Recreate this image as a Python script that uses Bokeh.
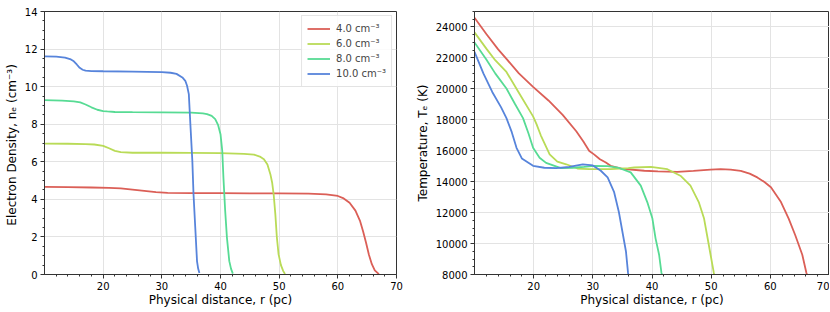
from bokeh.plotting import figure
from bokeh.layouts import row
from bokeh.models import FixedTicker
from bokeh.embed import file_html
from bokeh.resources import INLINE

# ---------------- data ----------------
labels = ["4.0 cm⁻³", "6.0 cm⁻³", "8.0 cm⁻³", "10.0 cm⁻³"]
colors = ["#db5f57", "#b9db57", "#57db94", "#5784db"]

# Electron density profiles
ne_r_4 = [10, 14, 18, 21, 23, 25, 27, 29, 31, 35, 40, 45, 50, 55, 58, 60, 61, 62, 63, 63.8, 64.3, 64.8, 65.3, 65.8, 66.3, 67.0]
ne_4 = [4.66, 4.65, 4.63, 4.61, 4.58, 4.52, 4.45, 4.38, 4.34, 4.33, 4.33, 4.32, 4.32, 4.30, 4.27, 4.18, 4.05, 3.82, 3.40, 2.84, 2.30, 1.70, 1.05, 0.55, 0.22, 0.02]

ne_r_6 = [10, 14, 17, 18.5, 20, 21, 22, 23, 25, 30, 35, 40, 44, 45.7, 46.7, 47.4, 48, 48.5, 48.8, 49.06, 49.35, 49.6, 49.9, 50.3, 50.7, 51.0]
ne_6 = [6.97, 6.96, 6.94, 6.92, 6.85, 6.72, 6.58, 6.51, 6.48, 6.48, 6.47, 6.46, 6.42, 6.38, 6.28, 6.14, 5.85, 5.34, 4.9, 4.27, 3.2, 2.0, 1.07, 0.5, 0.18, 0.03]

ne_r_8 = [10, 13, 15, 16.1, 17, 18, 19, 20, 20.7, 22, 25, 30, 35, 37, 37.7, 38.5, 39.1, 39.6, 40.0, 40.3, 40.5, 40.8, 41.1, 41.5, 41.8, 42.1]
ne_8 = [9.28, 9.26, 9.22, 9.16, 9.05, 8.9, 8.77, 8.70, 8.68, 8.65, 8.64, 8.63, 8.62, 8.58, 8.54, 8.44, 8.27, 7.95, 7.47, 6.58, 5.15, 3.38, 1.95, 0.71, 0.3, 0.05]

ne_r_10 = [10, 12, 13.5, 14.5, 15, 15.5, 16, 16.5, 17, 18, 20, 25, 30, 31.5, 32.5, 33.5, 34.0, 34.3, 34.6, 34.9, 35.2, 35.4, 35.7, 36.0, 36.2, 36.4]
ne_10 = [11.61, 11.6, 11.55, 11.45, 11.35, 11.18, 11.0, 10.9, 10.85, 10.83, 10.82, 10.8, 10.77, 10.74, 10.68, 10.49, 10.31, 10.05, 9.6, 7.8, 6.05, 4.27, 2.49, 0.7, 0.3, 0.08]

# Temperature profiles
te_r_4 = [10, 12, 14, 15.4, 17.5, 19.9, 22.5, 24.9, 27.2, 28.4, 29.4, 30.2, 31.2, 32.2, 33, 35, 38.7, 41, 44.3, 47, 49.9, 51.6, 53.3, 55, 56.5, 57.8, 59, 60.1, 61.8, 63.1, 64.2, 65.4, 66.1, 66.2]
te_4 = [24600, 23550, 22550, 21940, 21000, 20130, 19250, 18320, 17260, 16600, 15980, 15765, 15450, 15235, 15024, 14830, 14705, 14660, 14640, 14700, 14780, 14807, 14780, 14705, 14520, 14277, 13980, 13640, 12680, 11614, 10554, 9277, 8100, 8000]

te_r_6 = [10, 12, 13.5, 15.4, 17.5, 19.9, 20.5, 21.2, 22.7, 24, 25.5, 27.4, 29.4, 33, 36, 37, 39.8, 42.6, 44.8, 46.5, 47.9, 48.8, 49.3, 49.9, 50.45, 50.5]
te_6 = [23650, 22600, 21850, 21090, 19750, 18220, 17700, 17000, 15765, 15300, 15125, 14850, 14807, 14807, 14880, 14915, 14960, 14807, 14386, 13747, 12680, 11614, 10554, 9277, 8100, 8000]

te_r_8 = [10, 12, 13.5, 15.4, 16.8, 18.2, 19.1, 19.9, 21, 22.1, 24.6, 26.6, 28.5, 30.2, 32.5, 34.2, 36.4, 38.1, 39.2, 40.07, 40.6, 41.2, 41.6, 41.7]
te_8 = [23000, 21900, 21000, 20025, 19050, 18110, 17150, 16190, 15550, 15215, 14870, 14900, 14960, 15024, 15000, 14915, 14600, 13747, 12680, 11614, 10337, 9277, 8100, 8000]

te_r_10 = [10, 11.5, 13, 14.5, 15.4, 16.3, 17.1, 18, 19.9, 21.8, 23.8, 26, 28.3, 30, 31.35, 32.5, 33.6, 34.4, 35.0, 35.6, 35.95, 36.0]
te_10 = [22400, 21000, 19800, 18800, 18110, 17200, 16190, 15500, 15024, 14900, 14870, 14950, 15125, 15050, 14705, 14277, 13320, 12040, 10765, 9488, 8100, 8000]

# ticks
x_major = [20, 30, 40, 50, 60, 70]
x_minor = [12, 14, 16, 18, 22, 24, 26, 28, 32, 34, 36, 38, 42, 44, 46, 48, 52, 54, 56, 58, 62, 64, 66, 68]
ne_major = [0, 2, 4, 6, 8, 10, 12, 14]
ne_minor = [v / 2 for v in range(0, 29)]
te_major = [8000, 10000, 12000, 14000, 16000, 18000, 20000, 22000, 24000]
te_minor = list(range(8000, 25001, 500))

FONT = "DejaVu Sans"
DARK = "#333333"


def style(p, xlabel, ylabel, xt, xm, yt, ym):
    p.xaxis.ticker = FixedTicker(ticks=xt, minor_ticks=xm)
    p.yaxis.ticker = FixedTicker(ticks=yt, minor_ticks=ym)
    p.xaxis.axis_label = xlabel
    p.yaxis.axis_label = ylabel
    for ax in (p.xaxis, p.yaxis):
        ax.axis_label_text_font = FONT
        ax.axis_label_text_font_size = "12px"
        ax.axis_label_text_font_style = "normal"
        ax.axis_label_text_color = "black"
        ax.major_label_text_font = FONT
        ax.major_label_text_font_size = "10px"
        ax.major_label_text_color = "black"
        ax.axis_line_color = DARK
        ax.major_tick_line_color = DARK
        ax.minor_tick_line_color = DARK
        ax.major_tick_out = 4
        ax.major_tick_in = 0
        ax.minor_tick_out = 2
        ax.minor_tick_in = 0
        ax.major_label_standoff = 3
    p.xaxis.axis_label_standoff = 0
    p.yaxis.axis_label_standoff = 3
    p.grid.grid_line_color = "#e3e3e3"
    p.grid.grid_line_width = 1
    p.xgrid.ticker = FixedTicker(ticks=xt)
    p.ygrid.ticker = FixedTicker(ticks=yt)
    p.outline_line_color = DARK
    p.outline_line_alpha = 1
    p.background_fill_color = "white"
    p.border_fill_color = "white"


p1 = figure(width=412, height=309, x_range=(10, 70), y_range=(0, 14),
            output_backend="svg", toolbar_location=None,
            min_border_left=44, min_border_right=16, min_border_top=11)
style(p1, "Physical distance, r (pc)", "Electron Density, nₑ  (cm⁻³)",
      x_major, x_minor, ne_major, ne_minor)

for rr, vv, c, lab in zip([ne_r_4, ne_r_6, ne_r_8, ne_r_10], [ne_4, ne_6, ne_8, ne_10], colors, labels):
    p1.line(rr, vv, line_color=c, line_width=1.8, legend_label=lab)

lg = p1.legend[0]
lg.location = "top_right"
lg.margin = 4
lg.padding = 5
lg.spacing = 0
lg.glyph_width = 23
lg.glyph_height = 15
lg.label_height = 15
lg.label_standoff = 6
lg.label_text_font = FONT
lg.label_text_font_size = "10px"
lg.border_line_color = "#cccccc"
lg.background_fill_alpha = 0.85

p2 = figure(width=417, height=309, x_range=(10, 70), y_range=(8000, 25000),
            output_backend="svg", toolbar_location=None,
            min_border_left=61, min_border_right=0, min_border_top=7)
style(p2, "Physical distance, r (pc)", "Temperature, Tₑ (K)",
      x_major, x_minor, te_major, te_minor)

for rr, vv, c in zip([te_r_4, te_r_6, te_r_8, te_r_10], [te_4, te_6, te_8, te_10], colors):
    p2.line(rr, vv, line_color=c, line_width=1.8)

layout = row(p1, p2)
open("out.html", "w").write(file_html(layout, INLINE))
